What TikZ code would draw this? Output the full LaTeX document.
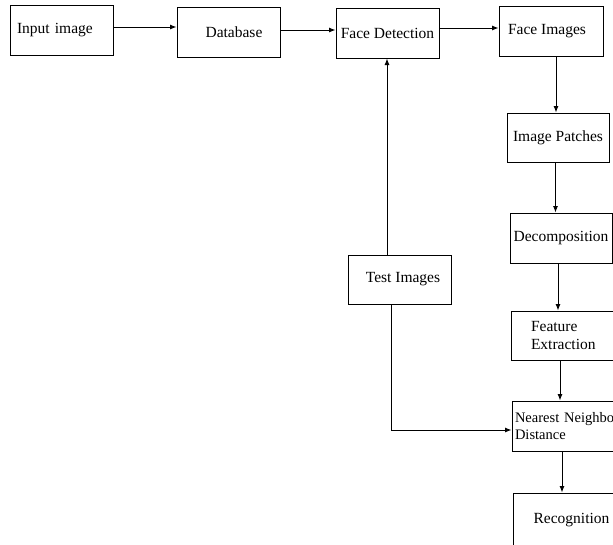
\documentclass[tikz,border=0pt]{standalone}
\usepackage{fontspec}
\setmainfont{Liberation Serif}
\usetikzlibrary{arrows.meta,calc}
\begin{document}
\begin{tikzpicture}[x=1pt,y=-1pt,
  box/.style={draw, line width=1pt, inner sep=0pt, font=\fontsize{15.5}{18}\selectfont},
  arr/.style={line width=0.9pt, -{Latex[length=6.5pt,width=5pt]}}]
\useasboundingbox (0,0) rectangle (613,544);
\clip (0,0) rectangle (613,544);
\node[box, minimum width=103pt, minimum height=50pt, text width=89pt, align=left] (in) at (61.5,30) {\raisebox{2pt}{Input image}};
\node[box, minimum width=103pt, minimum height=50pt] (db) at (228.5,32) {\hspace*{11pt}Database};
\node[box, minimum width=103pt, minimum height=50pt] (fd) at (387.5,33) {Face Detection};
\node[box, minimum width=104pt, minimum height=50pt] (fi) at (551,31) {Face Images\hspace*{8pt}};
\node[box, minimum width=102pt, minimum height=49pt] (ip) at (558,137.5) {Image Patches};
\node[box, minimum width=102pt, minimum height=50pt] (dec) at (561,238) {Decomposition};
\node[box, minimum width=103pt, minimum height=49pt] (test) at (399.5,279.5) {\hspace*{7pt}Test Images};
\node[box, minimum width=106pt, minimum height=49pt, text width=66pt, align=left] (fe) at (564,335.5) {Feature\\Extraction};
\node[box, minimum width=112pt, minimum height=50pt, text width=106pt, align=left, font=\fontsize{14.5}{16.5}\selectfont] (nn) at (568,426) {Nearest Neighbor\\Distance};
\node[box, minimum width=117pt, minimum height=54pt] (rec) at (571.5,520) {Recognition};
\draw[arr] ([yshift=3pt]in.east) -- ([yshift=3pt]in.east -| db.west);
\draw[arr] ([yshift=2pt]db.east) -- ([yshift=2pt]db.east -| fd.west);
\draw[arr] ([yshift=5pt]fd.east) -- ([yshift=5pt]fd.east -| fi.west);
\draw[arr] ([xshift=5pt]fi.south) -- ([xshift=5pt]fi.south |- ip.north);
\draw[arr] ([xshift=-2.5pt]ip.south) -- ([xshift=-2.5pt]ip.south |- dec.north);
\draw[arr] ([xshift=-3pt]dec.south) -- ([xshift=-3pt]dec.south |- fe.north);
\draw[arr] ([xshift=-4pt]fe.south) -- ([xshift=-4pt]fe.south |- nn.north);
\draw[arr] ([xshift=-6pt]nn.south) -- ([xshift=-6pt]nn.south |- rec.north);
\draw[arr] ([xshift=-12.5pt]test.north) -- ([xshift=-12.5pt]test.north |- fd.south);
\draw[arr] ([xshift=-8.5pt]test.south) |- ([yshift=-4pt]nn.west);
\end{tikzpicture}
\end{document}
